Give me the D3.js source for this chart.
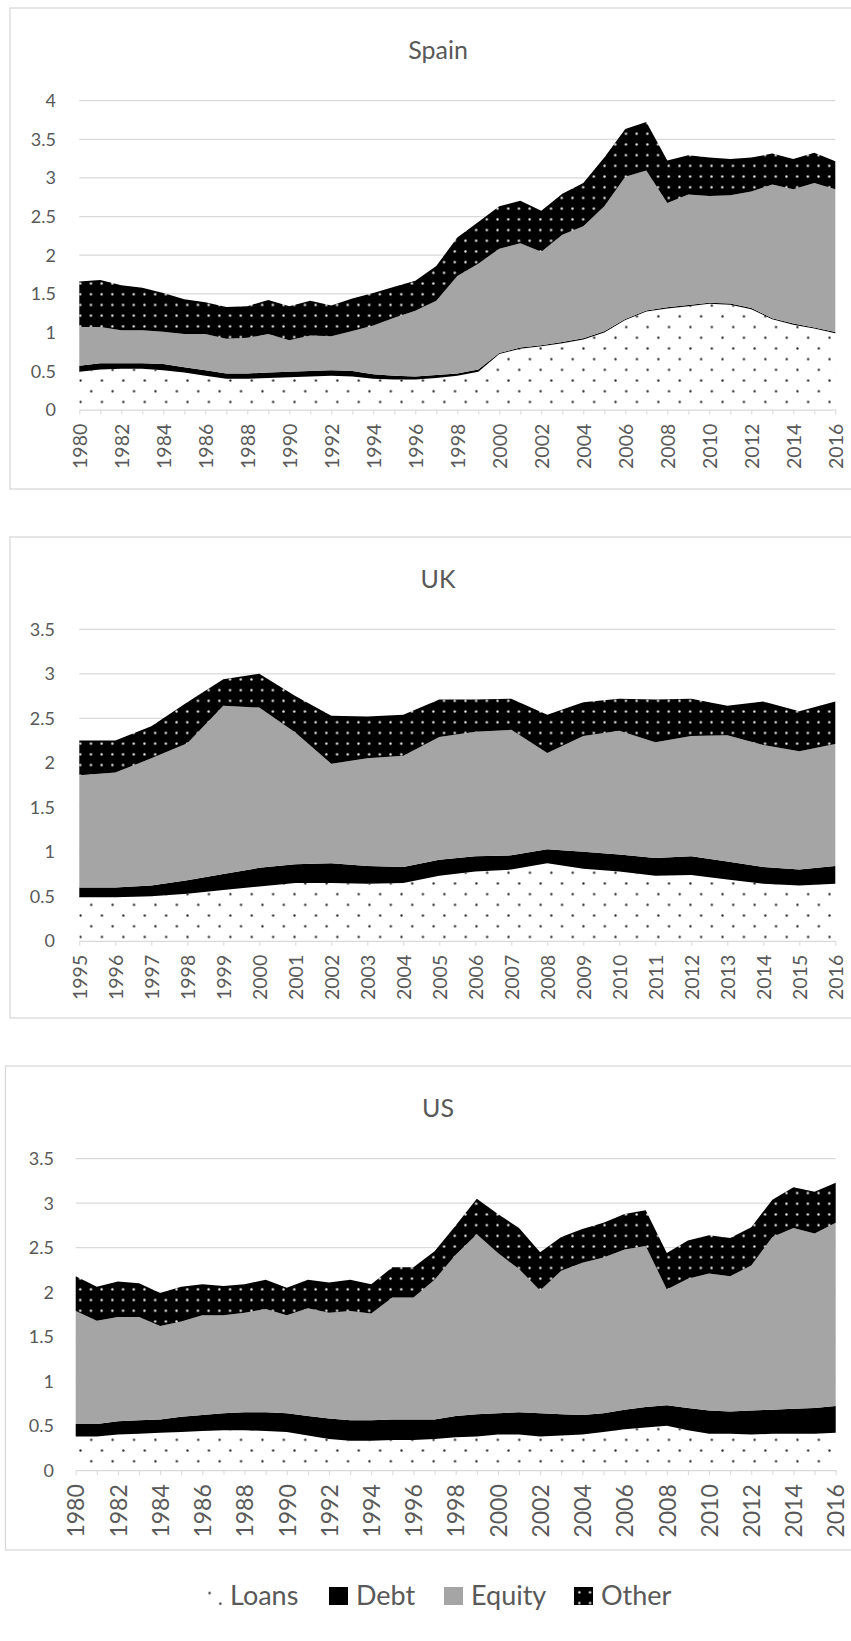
<!DOCTYPE html>
<html>
<head>
<meta charset="utf-8">
<script src="https://cdn.jsdelivr.net/npm/d3@7"></script>
<style>
  body { margin: 0; background: #fff; }
  svg text { font-family: Lato, 'Open Sans', sans-serif; fill: #595959; }
</style>
</head>
<body>
<div id="chart"></div>
<script>
  var w = 851,
    h = 1641;

  ////////////////////////
  // Data
  ////////////////////////
  var seriesNames = ['Loans', 'Debt', 'Equity', 'Other'];

  var spainYears = [1980,1981,1982,1983,1984,1985,1986,1987,1988,1989,1990,1991,1992,1993,1994,1995,1996,1997,1998,
    1999,2000,2001,2002,2003,2004,2005,2006,2007,2008,2009,2010,2011,2012,2013,2014,2015,2016];
  var spainLoans = [.49,.52,.53,.53,.51,.48,.44,.40,.40,.41,.42,.43,.44,.43,.40,.39,.39,.41,.44,
    .49,.72,.79,.82,.86,.91,1.00,1.16,1.27,1.31,1.34,1.37,1.36,1.30,1.17,1.10,1.05,.99];
  var spainDebt = [.08,.08,.07,.07,.08,.07,.07,.07,.07,.07,.07,.07,.07,.07,.06,.05,.04,.04,.03,
    .03,.015,.015,.015,.015,.015,.015,.015,.015,.015,.015,.015,.015,.015,.015,.015,.015,.015];
  var spainEquity = [.50,.47,.43,.43,.42,.43,.47,.45,.46,.50,.41,.46,.44,.52,.63,.75,.85,.96,1.26,
    1.37,1.35,1.35,1.21,1.39,1.45,1.62,1.84,1.81,1.35,1.43,1.38,1.40,1.51,1.73,1.74,1.87,1.85];
  var spainOther = [.59,.61,.58,.55,.50,.45,.41,.41,.41,.44,.44,.45,.40,.42,.42,.40,.39,.45,.50,
    .54,.55,.55,.53,.53,.56,.63,.62,.63,.55,.51,.50,.47,.44,.40,.39,.39,.36];
  var spainTicks = [0, .5, 1, 1.5, 2, 2.5, 3, 3.5, 4];

  var ukYears = [1995,1996,1997,1998,1999,2000,2001,2002,2003,2004,2005,
    2006,2007,2008,2009,2010,2011,2012,2013,2014,2015,2016];
  var ukLoans = [.49,.49,.50,.53,.57,.61,.65,.65,.64,.65,.73,.78,.80,.87,.81,.78,.73,.74,.69,.64,.62,.64];
  var ukDebt = [.11,.11,.12,.15,.18,.21,.21,.22,.20,.18,.18,.17,.16,.16,.19,.19,.20,.21,.20,.19,.18,.20];
  var ukEquity = [1.26,1.29,1.43,1.54,1.89,1.80,1.48,1.12,1.21,1.25,1.38,1.40,1.41,1.08,1.30,1.39,1.30,1.35,1.42,1.37,1.33,1.37];
  var ukOther = [.39,.36,.36,.46,.30,.38,.41,.54,.47,.46,.42,.36,.35,.43,.38,.36,.48,.42,.33,.49,.45,.48];
  var ukTicks = [0, .5, 1, 1.5, 2, 2.5, 3, 3.5];

  var usYears = spainYears.slice();
  var usLoans = [.38,.38,.40,.41,.42,.43,.44,.45,.45,.44,.43,.39,.35,.33,.33,.34,.34,.35,.37,
    .38,.40,.40,.38,.39,.40,.43,.46,.48,.50,.45,.41,.41,.40,.41,.41,.41,.42];
  var usDebt = [.14,.14,.15,.15,.15,.17,.18,.19,.20,.21,.21,.22,.23,.23,.23,.23,.23,.22,.24,
    .25,.24,.25,.26,.24,.22,.21,.22,.23,.23,.25,.26,.25,.27,.27,.28,.29,.30];
  var usEquity = [1.27,1.16,1.17,1.16,1.05,1.07,1.12,1.10,1.12,1.16,1.10,1.21,1.19,1.23,1.20,1.37,1.37,1.57,1.81,
    2.02,1.80,1.61,1.38,1.61,1.71,1.75,1.80,1.81,1.30,1.45,1.54,1.52,1.63,1.94,2.03,1.96,2.06];
  var usOther = [.39,.38,.40,.38,.37,.39,.35,.33,.32,.33,.31,.32,.34,.35,.33,.34,.34,.32,.33,
    .40,.44,.46,.43,.38,.38,.39,.40,.40,.41,.43,.43,.43,.43,.42,.46,.47,.45];
  var usTicks = [0, .5, 1, 1.5, 2, 2.5, 3, 3.5];

  var svg = d3.select('#chart')
    .append('svg')
    .attr('width', w)
    .attr('height', h);

  ////////////////////////
  // Fill patterns
  ////////////////////////
  var defs = svg.append('defs');
  var loansPat = defs.append('pattern')
    .attr('id', 'loans')
    .attr('patternUnits', 'userSpaceOnUse')
    .attr('width', 21.4)
    .attr('height', 21.4)
    .attr('patternTransform', 'translate(0.3,0.7)');
  loansPat.append('rect').attr('width', 21.4).attr('height', 21.4).attr('fill', '#fff');
  loansPat.append('circle').attr('cx', 5.35).attr('cy', 5.35).attr('r', 1.15).attr('fill', '#262626');
  loansPat.append('circle').attr('cx', 16.05).attr('cy', 16.05).attr('r', 1.15).attr('fill', '#262626');

  var otherPat = defs.append('pattern')
    .attr('id', 'other')
    .attr('patternUnits', 'userSpaceOnUse')
    .attr('width', 10.7)
    .attr('height', 10.7);
  otherPat.append('rect').attr('width', 10.7).attr('height', 10.7).attr('fill', '#000');
  otherPat.append('circle').attr('cx', 5.35).attr('cy', 5.35).attr('r', 1.2).attr('fill', '#ececec');

  var fills = {
    Loans: 'url(#loans)',
    Debt: '#000',
    Equity: '#a5a5a5',
    Other: 'url(#other)'
  };

  ////////////////////////
  // One panel per country
  ////////////////////////
  function drawPanel(cfg) {
    var g = svg.append('g').attr('class', 'panel');

    g.append('rect')
      .attr('x', cfg.box[0])
      .attr('y', cfg.box[1])
      .attr('width', 880)
      .attr('height', cfg.box[2])
      .attr('fill', '#fff')
      .attr('stroke', '#d9d9d9')
      .attr('stroke-width', 1.3);

    g.append('text')
      .attr('x', 438)
      .attr('y', cfg.titleY)
      .style('font-size', '25px')
      .style('text-anchor', 'middle')
      .text(cfg.title);

    var x = d3.scaleLinear()
      .domain(d3.extent(cfg.years))
      .range(cfg.xRange);
    var y = d3.scaleLinear()
      .domain([0, d3.max(cfg.ticks)])
      .range(cfg.yRange);

    // gridlines
    g.selectAll('.grid')
      .data(cfg.ticks.slice(1))
      .enter().append('line')
      .attr('class', 'grid')
      .attr('x1', cfg.xRange[0])
      .attr('x2', cfg.xRange[1])
      .attr('y1', function(d) { return y(d); })
      .attr('y2', function(d) { return y(d); })
      .attr('stroke', '#d9d9d9')
      .attr('stroke-width', 1.3);

    // stacked areas
    var rows = cfg.years.map(function(yr, i) {
      return { year: yr, Loans: cfg.loans[i], Debt: cfg.debt[i], Equity: cfg.equity[i], Other: cfg.other[i] };
    });
    var stack = d3.stack().keys(seriesNames);
    var area = d3.area()
      .x(function(d) { return x(d.data.year); })
      .y0(function(d) { return y(d[0]); })
      .y1(function(d) { return y(d[1]); });

    g.selectAll('.layer')
      .data(stack(rows))
      .enter().append('path')
      .attr('class', 'layer')
      .attr('d', area)
      .attr('fill', function(d) { return fills[d.key]; });

    // x axis
    var xAxis = d3.axisBottom(x)
      .tickValues(cfg.years)
      .tickSize(5)
      .tickSizeOuter(0)
      .tickFormat(function(d) { return (d - cfg.years[0]) % cfg.labelStep === 0 ? d : ''; });
    g.append('g')
      .attr('transform', 'translate(0,' + y(0) + ')')
      .call(xAxis)
      .call(function(a) {
        a.select('.domain').attr('stroke', '#d9d9d9').attr('stroke-width', 1.3);
        a.selectAll('.tick line').attr('stroke', '#d9d9d9');
        a.selectAll('.tick text')
          .attr('transform', 'rotate(-90)')
          .attr('x', -14)
          .attr('y', 0)
          .attr('dy', '0.36em')
          .style('text-anchor', 'end')
          .style('font-size', cfg.yearSize);
      });

    // y labels
    g.selectAll('.ylab')
      .data(cfg.ticks)
      .enter().append('text')
      .attr('class', 'ylab')
      .attr('x', cfg.yLabelX)
      .attr('y', function(d) { return y(d); })
      .attr('dy', '0.36em')
      .style('text-anchor', 'end')
      .style('font-size', '18px')
      .text(function(d) { return d3.format('')(d); });
  }

  drawPanel({
    title: 'Spain', titleY: 59, box: [10, 8, 481],
    years: spainYears, loans: spainLoans, debt: spainDebt, equity: spainEquity, other: spainOther,
    ticks: spainTicks, labelStep: 2, yearSize: '19.5px',
    xRange: [79.3, 835.3], yRange: [409.7, 100.7], yLabelX: 56
  });

  drawPanel({
    title: 'UK', titleY: 588, box: [10, 537, 481],
    years: ukYears, loans: ukLoans, debt: ukDebt, equity: ukEquity, other: ukOther,
    ticks: ukTicks, labelStep: 1, yearSize: '19.5px',
    xRange: [79.3, 835.3], yRange: [940.8, 629.3], yLabelX: 55
  });

  drawPanel({
    title: 'US', titleY: 1117, box: [5.5, 1066, 484],
    years: usYears, loans: usLoans, debt: usDebt, equity: usEquity, other: usOther,
    ticks: usTicks, labelStep: 2, yearSize: '23px',
    xRange: [75.7, 835.7], yRange: [1470.2, 1158.7], yLabelX: 54
  });

  ////////////////////////
  // Legend
  ////////////////////////
  var legendX = [204, 329, 444, 574];
  var legend = svg.append('g')
    .attr('class', 'legend')
    .attr('transform', 'translate(0,1587)');
  var items = legend.selectAll('.item')
    .data(seriesNames)
    .enter().append('g')
    .attr('class', 'item')
    .attr('transform', function(d, i) { return 'translate(' + legendX[i] + ',0)'; });
  items.append('rect')
    .attr('width', 19)
    .attr('height', 18)
    .attr('fill', function(d) { return fills[d]; });
  items.append('text')
    .attr('x', function(d) { return d === 'Loans' ? 26 : 27; })
    .attr('y', 18)
    .style('font-size', '27px')
    .text(function(d) { return d; });
</script>
</body>
</html>
